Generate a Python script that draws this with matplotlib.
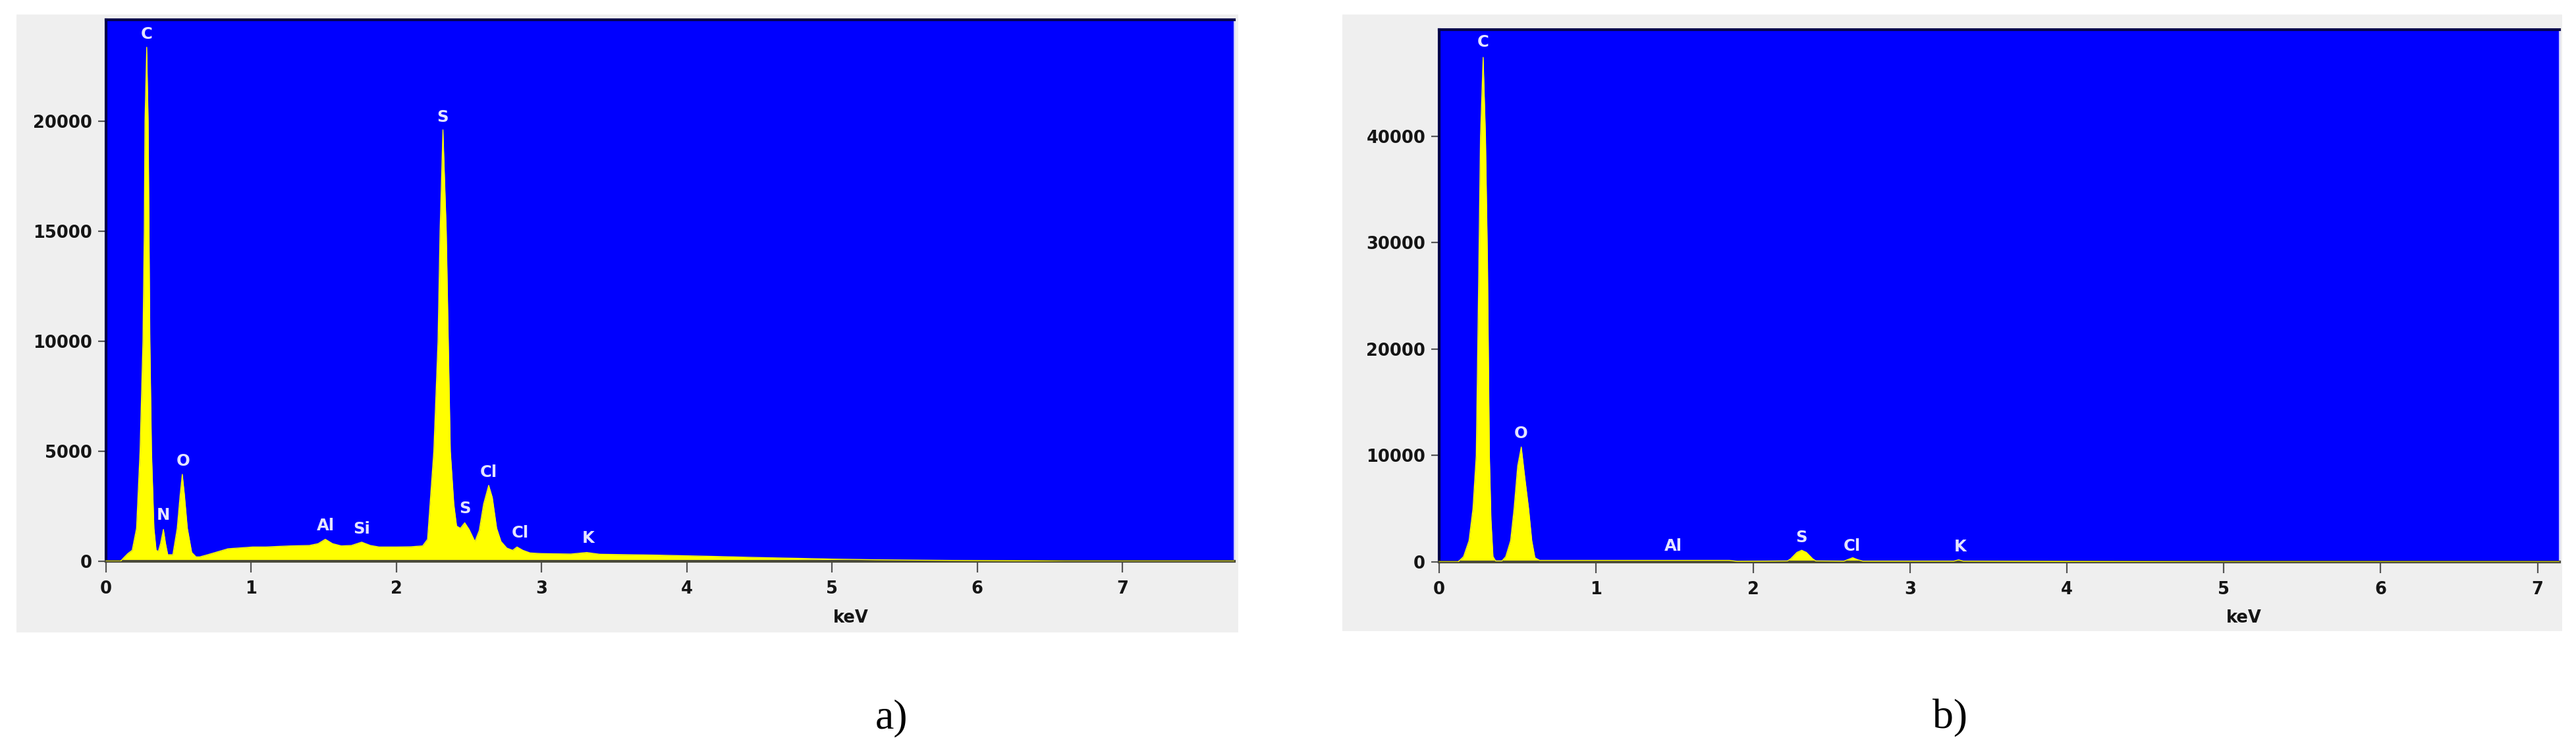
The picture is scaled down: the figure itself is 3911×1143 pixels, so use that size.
import matplotlib
matplotlib.use("Agg")
import matplotlib.pyplot as plt
from matplotlib.patches import Rectangle
from matplotlib.transforms import blended_transform_factory

# ---------------- data ----------------
# Spectrum a)
kev_a = [0.00, 0.10, 0.12, 0.15, 0.18, 0.21, 0.234, 0.254, 0.263, 0.268, 0.28, 0.29, 0.296, 0.302,
         0.313, 0.33, 0.345, 0.36, 0.375, 0.395, 0.41, 0.425, 0.46, 0.49, 0.51, 0.525, 0.54, 0.56,
         0.59, 0.62, 0.645, 0.70, 0.84, 1.01, 1.10, 1.20, 1.27, 1.40, 1.46, 1.51, 1.56, 1.62, 1.69,
         1.76, 1.82, 1.88, 2.00, 2.10, 2.18, 2.214, 2.257, 2.286, 2.30, 2.32, 2.343, 2.357, 2.371,
         2.395, 2.414, 2.44, 2.47, 2.50, 2.54, 2.57, 2.60, 2.635, 2.66, 2.69, 2.72, 2.76, 2.80, 2.83,
         2.87, 2.92, 3.00, 3.20, 3.31, 3.40, 3.60, 3.80, 4.00, 4.20, 4.50, 4.80, 5.00, 5.30, 5.60,
         6.00, 6.40, 6.60, 7.77]
cnt_a = [0, 0, 150, 350, 500, 1500, 5000, 10000, 15000, 20000, 23350, 20000, 15000, 10000,
         5000, 1500, 500, 450, 800, 1450, 800, 300, 300, 1500, 3000, 3950, 3000, 1500,
         400, 200, 200, 300, 570, 650, 650, 680, 700, 720, 800, 1000, 800, 700, 720,
         870, 720, 650, 650, 660, 700, 1000, 5000, 10000, 15000, 19600, 15000, 10000, 5000,
         2600, 1600, 1500, 1750, 1450, 900, 1400, 2600, 3450, 2900, 1500, 900, 600, 500, 650,
         500, 380, 350, 330, 400, 320, 300, 280, 250, 220, 170, 130, 100, 70, 50,
         30, 15, 0, 0]

# Spectrum b)
kev_b = [0.00, 0.12, 0.155, 0.19, 0.215, 0.236, 0.25, 0.263, 0.28, 0.295, 0.308, 0.32, 0.33, 0.343,
         0.36, 0.40, 0.424, 0.455, 0.477, 0.50, 0.523, 0.545, 0.57, 0.59, 0.61, 0.64, 1.00, 1.50,
         1.85, 1.90, 2.22, 2.24, 2.28, 2.31, 2.34, 2.38, 2.40, 2.58, 2.60, 2.635, 2.67, 2.70,
         3.28, 3.31, 3.34, 4.00, 5.00, 7.14]
cnt_b = [0, 0, 500, 2000, 5000, 10000, 25000, 40000, 47400, 40000, 28000, 10000, 4000, 500,
         100, 100, 500, 2000, 5000, 9000, 10800, 8000, 5000, 2000, 400, 150, 150, 150,
         150, 60, 100, 300, 900, 1100, 900, 300, 100, 80, 200, 400, 200, 80,
         80, 200, 80, 40, 0, 0]

# Peak labels
labels_a = ["C", "N", "O", "Al", "Si", "S", "S", "Cl", "Cl", "K"]
label_x_a = [0.28, 0.395, 0.53, 1.51, 1.76, 2.32, 2.47, 2.635, 2.85, 3.32]
label_y_a = [23950, 2100, 4550, 1620, 1470, 20180, 2400, 4040, 1300, 1050]

labels_b = ["C", "O", "Al", "S", "Cl", "K"]
label_x_b = [0.28, 0.52, 1.49, 2.31, 2.63, 3.32]
label_y_b = [48800, 12050, 1480, 2290, 1480, 1450]

yticks_a = [0, 5000, 10000, 15000, 20000]
yticks_b = [0, 10000, 20000, 30000, 40000]
xticks = [0, 1, 2, 3, 4, 5, 6, 7]
panel_tags = ["a)", "b)"]

# ---------------- figure ----------------
W, H = 3911, 1143
fig = plt.figure(figsize=(W / 100, H / 100), dpi=100)
fig.patch.set_facecolor("white")

BLUE = "#0000ff"
YELLOW = "#ffff00"
GRAY = "#efefef"

# gray panel frames (behind the axes)
fig.patches.append(Rectangle((0.0064, 0.1601), 0.4743, 0.8206, transform=fig.transFigure,
                             facecolor=GRAY, edgecolor="none", zorder=-10))
fig.patches.append(Rectangle((0.5211, 0.1619), 0.4735, 0.8190, transform=fig.transFigure,
                             facecolor=GRAY, edgecolor="none", zorder=-10))

ax_a = fig.add_axes([0.04117, 0.2546, 0.4380, 0.7192])
ax_b = fig.add_axes([0.5587, 0.2537, 0.4349, 0.7069])
ax_a.set_zorder(1)
ax_b.set_zorder(1)

tick_font = dict(family="DejaVu Sans", weight="bold", size=18.5)


def style(ax, x, y, xmax, ymax, yticks, labels, lx, ly):
    ax.set_facecolor(BLUE)
    ax.fill_between(x, 0, y, color=YELLOW, lw=0, zorder=2)
    ax.plot(x, y, color=YELLOW, lw=1.0, zorder=3)
    ax.set_xlim(0, xmax)
    ax.set_ylim(0, ymax)
    ax.set_xticks(xticks)
    ax.set_yticks(yticks)
    ax.set_xticklabels([str(t) for t in xticks], fontdict=tick_font, color="#151515")
    ax.set_yticklabels([str(t) for t in yticks], fontdict=tick_font, color="#151515")
    ax.tick_params(axis="x", direction="out", length=12, width=1.6, color="#555555", pad=9)
    ax.tick_params(axis="y", direction="out", length=9, width=1.6, color="#555555", pad=6)
    for side in ["top", "left"]:
        ax.spines[side].set_color("#00004a")
        ax.spines[side].set_linewidth(3)
    ax.spines["bottom"].set_color("#4a4a3a")
    ax.spines["bottom"].set_linewidth(3)
    ax.spines["right"].set_color("#c8c8ff")
    ax.spines["right"].set_linewidth(1.5)
    for t, xx, yy in zip(labels, lx, ly):
        ax.text(xx, yy, t, color="#e4e4ff", ha="center", va="center",
                family="DejaVu Sans", weight="bold", size=17.5, zorder=4)
    tr = blended_transform_factory(ax.transData, fig.transFigure)
    ax.text(5.13, 0.1794, "keV", transform=tr, ha="center", va="center",
            fontdict=tick_font, color="#151515", clip_on=False)


style(ax_a, kev_a, cnt_a, 7.77, 24600, yticks_a, labels_a, label_x_a, label_y_a)
style(ax_b, kev_b, cnt_b, 7.14, 50000, yticks_b, labels_b, label_x_b, label_y_b)

fig.text(0.346, 0.046, panel_tags[0], ha="center", va="center",
         family="Liberation Serif", size=46, color="black")
fig.text(0.757, 0.046, panel_tags[1], ha="center", va="center",
         family="Liberation Serif", size=46, color="black")

fig.savefig("out.png", dpi=100, facecolor="white")
